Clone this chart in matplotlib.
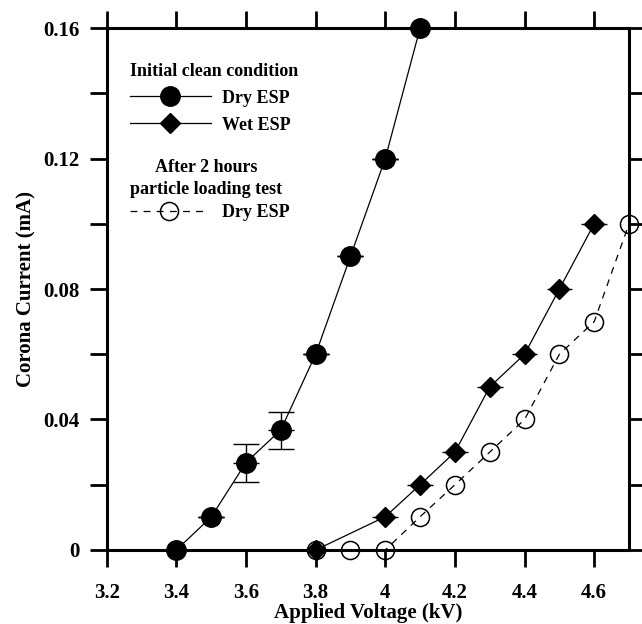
import numpy as np
import matplotlib
matplotlib.use("Agg")
import matplotlib.pyplot as plt
from matplotlib.ticker import MultipleLocator

plt.rcParams['font.family'] = ['Liberation Serif', 'DejaVu Serif']
plt.rcParams['font.weight'] = 'bold'

# ------------------------------------------------------------
# data
# ------------------------------------------------------------
dry_v = [3.4, 3.5, 3.6, 3.7, 3.8, 3.9, 4.0, 4.1]
dry_i = [0.0, 0.0101, 0.0268, 0.0368, 0.060, 0.090, 0.120, 0.160]
dry_err_lo = [0, 0, 0.0059, 0.0058, 0, 0, 0, 0]
dry_err_hi = [0, 0, 0.0058, 0.0056, 0, 0, 0, 0]

wet_v = [3.8, 4.0, 4.1, 4.2, 4.3, 4.4, 4.5, 4.6]
wet_i = [0.0, 0.0102, 0.020, 0.030, 0.050, 0.060, 0.080, 0.100]

aft_v = [3.8, 3.9, 4.0, 4.1, 4.2, 4.3, 4.4, 4.5, 4.6, 4.7]
aft_i = [0.0, 0.0, 0.0, 0.0102, 0.020, 0.030, 0.040, 0.060, 0.070, 0.100]

x_err = 0.037

fig = plt.figure(figsize=(6.42, 6.24), dpi=100)
ax = fig.add_axes([0.1662, 0.1186, 0.8136, 0.8365])

# after loading (drawn first so the others sit on top)
h_aft, = ax.plot(aft_v, aft_i, color='black', lw=0.9, dashes=(5.5, 5),
                 marker='o', ms=13, mfc='none', mec='black', mew=1.1,
                 clip_on=False, zorder=3)

# wet ESP
ax.errorbar(wet_v, wet_i, xerr=x_err, fmt='none', ecolor='black',
            elinewidth=1.0, capsize=0, clip_on=False, zorder=4)
h_wet, = ax.plot(wet_v, wet_i, color='black', lw=0.9, marker='D', ms=10,
                 mfc='black', mec='black', clip_on=False, zorder=5)

# dry ESP (initial)
ax.errorbar(dry_v, dry_i, xerr=x_err, fmt='none', ecolor='black',
            elinewidth=1.0, capsize=0, clip_on=False, zorder=4)
ax.errorbar(dry_v, dry_i, yerr=[dry_err_lo, dry_err_hi],
            fmt='none', ecolor='black', elinewidth=1.0, capsize=9.5,
            capthick=1.0, clip_on=False, zorder=4)
h_dry, = ax.plot(dry_v, dry_i, color='black', lw=0.9, marker='o', ms=14,
                 mfc='black', mec='black', clip_on=False, zorder=5)

ax.set_xlim(3.2, 4.7)
ax.set_ylim(0, 0.16)

ax.set_xticks([3.2, 3.4, 3.6, 3.8, 4.0, 4.2, 4.4, 4.6])
ax.set_xticklabels(['3.2', '3.4', '3.6', '3.8', '4', '4.2', '4.4', '4.6'])
ax.set_yticks([0, 0.04, 0.08, 0.12, 0.16])
ax.set_yticklabels(['0', '0.04', '0.08', '0.12', '0.16'])
ax.yaxis.set_minor_locator(MultipleLocator(0.02))

ax.tick_params(axis='both', which='both', direction='out', length=12.5,
               width=2.0, labelsize=15, top=True, right=True)
ax.tick_params(axis='x', pad=11)
ax.tick_params(axis='y', pad=7)

for s in ax.spines.values():
    s.set_linewidth(2.2)

ax.set_xlabel('Applied Voltage (kV)', fontsize=15, fontweight='bold', labelpad=0)
ax.set_ylabel('Corona Current (mA)', fontsize=15, fontweight='bold', labelpad=5)

leg1 = ax.legend([h_dry, h_wet], ['Dry ESP', 'Wet ESP'],
                 title='Initial clean condition', alignment='left',
                 loc='upper left', bbox_to_anchor=(0.027, 0.95),
                 frameon=False, borderpad=0, handlelength=4.5,
                 handleheight=0.9, handletextpad=0.6, labelspacing=0.5,
                 prop={'size': 13, 'weight': 'bold'},
                 title_fontproperties={'size': 13, 'weight': 'bold'})
ax.add_artist(leg1)

ax.legend([h_aft], ['Dry ESP'],
          title='After 2 hours\nparticle loading test', alignment='left',
          loc='upper left', bbox_to_anchor=(0.027, 0.767),
          frameon=False, borderpad=0, handlelength=4.3,
          handletextpad=0.8, labelspacing=0.35,
          prop={'size': 13, 'weight': 'bold'},
          title_fontproperties={'size': 13, 'weight': 'bold'})
leg2 = ax.get_legend()
leg2.get_title().set_multialignment('center')
leg2.get_title().set_linespacing(1.4)

fig.savefig('out.png', dpi=100)
